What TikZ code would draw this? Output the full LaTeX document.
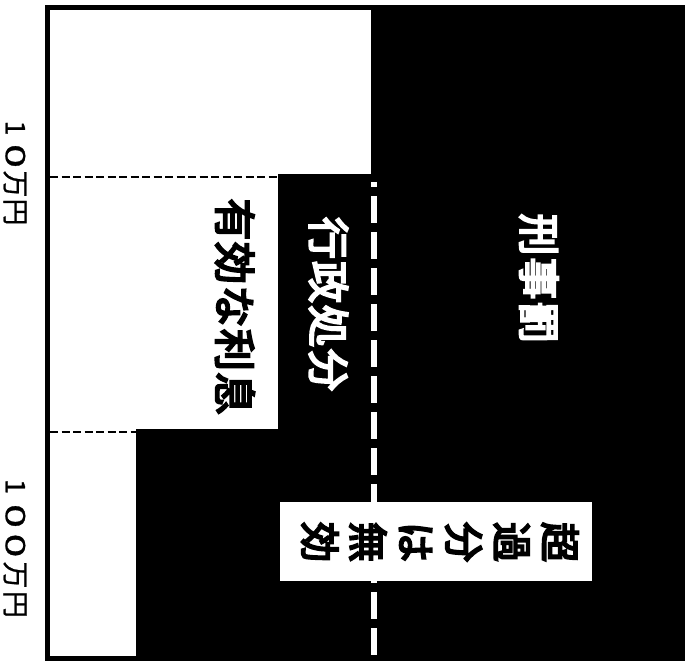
\documentclass[tikz,border=0pt]{standalone}
\usepackage{fontspec}
\newfontfamily\cjk{Noto Sans CJK JP}[FakeBold=0.8]
\newfontfamily\cjkb{Noto Sans CJK JP}[FakeBold=5]
\newcommand\cel[2]{\makebox[#1]{#2}}
\newcommand\wz{\scalebox{1.6}[1]{0}}
\tikzset{
  big/.style={rotate=-90, inner sep=0pt, font=\cjkb\fontsize{42}{48}\selectfont},
  axislbl/.style={rotate=-90, inner sep=0pt, font=\cjk\fontsize{27}{30}\selectfont},
  blackdash/.style={black, line width=2pt, dash pattern=on 8pt off 3.5pt},
  whitedash/.style={white, line width=6pt, dash pattern=on 27pt off 9pt, dash phase=22pt},
}
\begin{document}
\begin{tikzpicture}[x=1pt,y=-1pt]
\useasboundingbox (0,0) rectangle (692,664);
% black field
\fill[black] (45,5) rectangle (685,661);
% white steps
\fill[white] (50,10) rectangle (371,174);
\fill[white] (50,174) rectangle (278,429);
\fill[white] (50,429) rectangle (136,656);
% thresholds
\coordinate (t1a) at (50,177);
\coordinate (t1b) at (279,177);
\coordinate (t2a) at (50,432);
\coordinate (t2b) at (136,432);
\draw[blackdash] (t1a) -- (t1b);
\draw[blackdash] (t2a) -- (t2b);
% white dashed boundary
\coordinate (wa) at (374,182);
\coordinate (wb) at (374,656);
\draw[whitedash] (wa) -- (wb);
% labels
\node[big, white] (keiji) at (539,278.5) {\cel{44pt}{刑}\cel{44pt}{事}\cel{44pt}{罰}};
\node[big, white] (gyosei) at (328.5,304) {\cel{44pt}{行}\cel{44pt}{政}\cel{44pt}{処}\cel{44pt}{分}};
\node[big, black] (rishi) at (235,306.5) {\cel{43.5pt}{有}\cel{43.5pt}{効}\cel{43.5pt}{な}\cel{43.5pt}{利}\cel{43.5pt}{息}};
% invalid-excess box
\node[rotate=-90, fill=white, inner sep=0pt, minimum width=79pt, minimum height=312pt] (box) at (436,541.5) {};
\node[rotate=-90, inner sep=0pt, align=center, font=\cjkb\fontsize{40}{48}\selectfont] (mukou) at (440,542) {超\\過\\分\\は\\無\\効};
% axis labels
\node[axislbl] (l10) at (15,170) {\cel{28pt}{1}\cel{28pt}{\wz}\cel{28pt}{万}\cel{28pt}{円}};
\node[axislbl] (l100) at (15,545.5) {\cel{29.5pt}{1}\cel{29.5pt}{\wz}\cel{29.5pt}{\wz}\cel{29.5pt}{万}\cel{29.5pt}{円}};
\end{tikzpicture}
\end{document}
